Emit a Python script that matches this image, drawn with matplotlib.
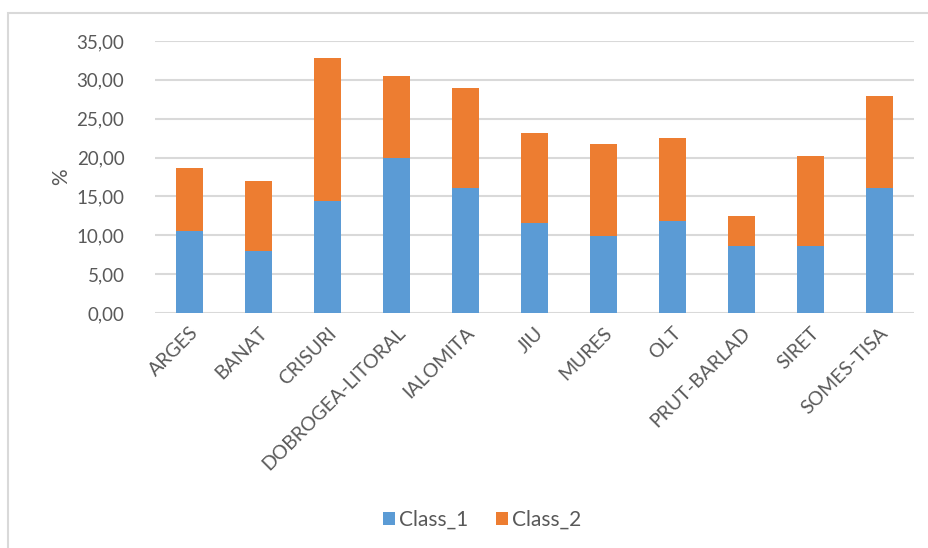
import matplotlib.pyplot as plt
from matplotlib.patches import Rectangle

# Valori pe bazine hidrografice (%)
bazine = ['ARGES', 'BANAT', 'CRISURI', 'DOBROGEA-LITORAL', 'IALOMITA', 'JIU',
          'MURES', 'OLT', 'PRUT-BARLAD', 'SIRET', 'SOMES-TISA']
class_1 = [10.55, 7.95, 14.40, 19.95, 16.03, 11.52, 9.90, 11.83, 8.60, 8.60, 16.03]
total = [18.60, 17.00, 32.85, 30.55, 28.95, 23.15, 21.80, 22.50, 12.42, 20.20, 27.98]
class_2 = [t - c for t, c in zip(total, class_1)]

y_ticks = [0, 5, 10, 15, 20, 25, 30, 35]
y_labels = ['0,00', '5,00', '10,00', '15,00', '20,00', '25,00', '30,00', '35,00']

plt.rcParams['font.family'] = ['Lato', 'DejaVu Sans']
gri = '#595959'

fig = plt.figure(figsize=(9.29, 5.48), dpi=100)
fig.patch.set_facecolor('white')
fig.patches.append(Rectangle((8 / 929, -0.1), 1.2, 1.1 - 13 / 548,
                             transform=fig.transFigure, fill=False,
                             edgecolor='#d9d9d9', linewidth=1.5))

ax = fig.add_axes([155 / 929, 1 - 313 / 548, (914 - 155) / 929, (313 - 41) / 548])

x = range(len(bazine))
ax.bar(x, class_1, width=0.4, color='#5b9bd5', label='Class_1', zorder=3)
ax.bar(x, class_2, width=0.4, bottom=class_1, color='#ed7d31', label='Class_2', zorder=3)

ax.set_xlim(-0.5, len(bazine) - 0.5)
ax.set_ylim(0, 35)
ax.set_yticks(y_ticks)
ax.set_yticklabels(y_labels, fontsize=13.5, color=gri)
ax.set_xticks(list(x))
ax.set_xticklabels(bazine, rotation=45, ha='right', rotation_mode='anchor',
                   fontsize=14, color=gri)
ax.tick_params(axis='both', length=0)
ax.tick_params(axis='y', pad=22)
ax.tick_params(axis='x', pad=8)
ax.grid(axis='y', color='#d9d9d9', linewidth=1.5, zorder=0)
for s in ax.spines.values():
    s.set_visible(False)

ax.set_ylabel('%', fontsize=15, color=gri, labelpad=4)

fig.legend(loc='center', bbox_to_anchor=(482 / 929, 1 - 520 / 548), ncol=2,
           frameon=False, fontsize=15, labelcolor=gri, handlelength=0.6,
           handleheight=0.6, handletextpad=0.2, columnspacing=1.3)

fig.savefig('out.png', dpi=100)
